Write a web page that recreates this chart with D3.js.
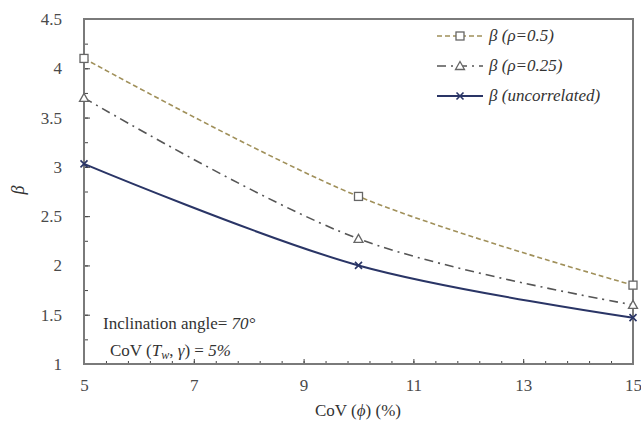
<!DOCTYPE html>
<html><head><meta charset="utf-8">
<script src="https://cdn.jsdelivr.net/npm/d3@7"></script>
<style>body{margin:0;background:#fff}svg{display:block}</style>
</head><body><svg id="c" width="641" height="430"></svg>
<script>
const covPhi = [5, 10, 15];
const betaRho05 = [4.1, 2.7, 1.8];
const betaRho025 = [3.7, 2.27, 1.6];
const betaUncorr = [3.03, 2.0, 1.47];
const xTicks = [5, 7, 9, 11, 13, 15];
const yTicks = [1, 1.5, 2, 2.5, 3, 3.5, 4, 4.5];
const legendLabels = ["(\u03c1=0.5)", "(\u03c1=0.25)", "(uncorrelated)"];

const svg = d3.select("#c");
const L = 84, R = 633, T = 19, B = 364;
const x = d3.scaleLinear().domain([5, 15]).range([L, R]);
const y = d3.scaleLinear().domain([1, 4.5]).range([B, T]);
const frame = "#7a7a7a";

const xMinor = d3.range(5, 15.001, 0.4);
const yMinor = d3.range(1, 4.501, 0.25);
svg.append("g").attr("transform", `translate(0,${B})`)
  .call(d3.axisBottom(x).tickValues(xMinor).tickSize(-3).tickFormat(""))
  .call(g => g.select(".domain").remove())
  .selectAll("line").attr("stroke", "#444");
svg.append("g").attr("transform", `translate(${L},0)`)
  .call(d3.axisLeft(y).tickValues(yMinor).tickSize(-4).tickFormat(""))
  .call(g => g.select(".domain").remove())
  .selectAll("line").attr("stroke", "#444");
const gx = svg.append("g").attr("transform", `translate(0,${B})`)
  .call(d3.axisBottom(x).tickValues(xTicks).tickSize(-5).tickPadding(15).tickFormat(d3.format("d")));
gx.select(".domain").remove();
gx.selectAll("line").attr("stroke", "#444");
gx.selectAll("text").attr("font-size", 17).attr("fill", "#4a4a4a");
const gy = svg.append("g").attr("transform", `translate(${L},0)`)
  .call(d3.axisLeft(y).tickValues(yTicks).tickSize(-6).tickPadding(22).tickFormat(d => d3.format("~g")(d)));
gy.select(".domain").remove();
gy.selectAll("line").attr("stroke", "#444");
gy.selectAll("text").attr("font-size", 17).attr("fill", "#4a4a4a");

svg.append("rect").attr("x", L).attr("y", T).attr("width", R - L).attr("height", B - T)
  .attr("fill", "none").attr("stroke", frame).attr("stroke-width", 2);

const series = [
  {vals: betaRho05, color: "#a0905a", dash: "5,3", width: 1.6, marker: "square"},
  {vals: betaRho025, color: "#555555", dash: "9,5,2,5", width: 1.6, marker: "triangle"},
  {vals: betaUncorr, color: "#2a3566", dash: null, width: 2, marker: "x"}
];
const line = d3.line().x(d => x(d[0])).y(d => y(d[1])).curve(d3.curveCatmullRom.alpha(0.5));

function marker(g, type, cx, cy) {
  if (type === "square") {
    g.append("rect").attr("x", cx - 4).attr("y", cy - 4).attr("width", 8).attr("height", 8)
      .attr("fill", "#fff").attr("stroke", "#666").attr("stroke-width", 1.3);
  } else if (type === "triangle") {
    g.append("path").attr("d", `M${cx},${cy-4.5}L${cx+4.5},${cy+3.5}L${cx-4.5},${cy+3.5}Z`)
      .attr("fill", "#fff").attr("stroke", "#666").attr("stroke-width", 1.3);
  } else {
    g.append("path").attr("d", `M${cx-3.5},${cy-3.5}L${cx+3.5},${cy+3.5}M${cx+3.5},${cy-3.5}L${cx-3.5},${cy+3.5}`)
      .attr("stroke", "#2a3566").attr("stroke-width", 1.6);
  }
}

series.forEach(s => {
  const pts = covPhi.map((c, i) => [c, s.vals[i]]);
  svg.append("path").attr("d", line(pts)).attr("fill", "none")
    .attr("stroke", s.color).attr("stroke-width", s.width).attr("stroke-dasharray", s.dash);
  const g = svg.append("g");
  pts.forEach(p => marker(g, s.marker, x(p[0]), y(p[1])));
});

const ly = [36, 66, 96];
series.forEach((s, i) => {
  svg.append("line").attr("x1", 437).attr("x2", 483).attr("y1", ly[i]).attr("y2", ly[i])
    .attr("stroke", s.color).attr("stroke-width", s.width).attr("stroke-dasharray", s.dash);
  marker(svg.append("g"), s.marker, 460, ly[i]);
  const t = svg.append("text").attr("x", 489).attr("y", ly[i] + 5).attr("font-size", 17)
    .attr("fill", "#333").attr("font-style", "italic");
  t.append("tspan").text("\u03b2 ");
  t.append("tspan").text(legendLabels[i]);
});

svg.append("text").attr("x", 103).attr("y", 329).attr("font-size", 17).attr("fill", "#333")
  .text("Inclination angle= ").append("tspan").attr("font-style", "italic").text("70\u00b0");
const a2 = svg.append("text").attr("x", 110).attr("y", 356).attr("font-size", 17).attr("fill", "#333");
a2.append("tspan").text("CoV (");
a2.append("tspan").attr("font-style", "italic").text("T");
a2.append("tspan").attr("font-style", "italic").attr("font-size", 12).attr("dy", 3).text("w");
a2.append("tspan").attr("dy", -3).text(", ");
a2.append("tspan").attr("font-style", "italic").text("\u03b3");
a2.append("tspan").text(") = ");
a2.append("tspan").attr("font-style", "italic").text("5%");

const xt = svg.append("text").attr("x", 358).attr("y", 416).attr("text-anchor", "middle").attr("font-size", 17)
  .attr("fill", "#333");
xt.append("tspan").text("CoV (");
xt.append("tspan").attr("font-style", "italic").text("\u03d5");
xt.append("tspan").text(") (%)");
svg.append("text").attr("transform", "translate(24,190) rotate(-90)").attr("text-anchor", "middle")
  .attr("font-size", 18).attr("font-style", "italic").attr("fill", "#333").text("\u03b2");

svg.selectAll("text, g").attr("font-family", "'Liberation Serif', 'DejaVu Serif', serif");
</script></body></html>
